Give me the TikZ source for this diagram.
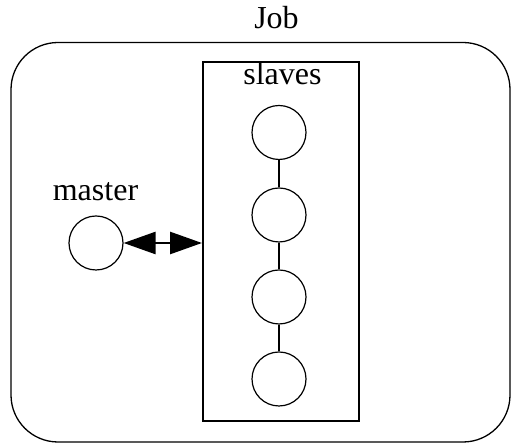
\documentclass[tikz,border=0pt]{standalone}
\usepackage{fontspec}
\setmainfont{Liberation Serif}
\usetikzlibrary{arrows.meta}
\begin{document}
\begin{tikzpicture}[x=1pt,y=1pt,
  proc/.style={circle,draw,line width=1.2pt,minimum size=54pt,inner sep=0pt},
  lbl/.style={anchor=base,inner sep=0pt,font=\fontsize{32}{38}\selectfont},
  link/.style={line width=2pt},
  duplex/.style={line width=2.6pt,{Triangle[length=32pt,width=22pt]}-{Triangle[length=32pt,width=22pt]}}]
  \useasboundingbox (0,0) rectangle (511,443);
  % job boundary
  \draw[line width=1.3pt,rounded corners=47pt] (11,1) rectangle (510,400.5);
  \node[lbl] (job) at (276.5,414) {Job};
  % slave group
  \node[draw,line width=2pt,minimum width=156pt,minimum height=359pt,inner sep=0pt] (group) at (281,201.5) {};
  \node[lbl] (slaveslbl) at (282.5,358) {slaves};
  \node[proc] (s1) at (279,310.5) {};
  \node[proc] (s2) at (279,228) {};
  \node[proc] (s3) at (279,146) {};
  \node[proc] (s4) at (279,64) {};
  \draw[link] (s1) -- (s2);
  \draw[link] (s2) -- (s3);
  \draw[link] (s3) -- (s4);
  % master
  \node[lbl] (masterlbl) at (95.5,242) {master};
  \node[proc] (m) at (96,200) {};
  \draw[duplex] (m.east) -- (m.east -| group.west);
\end{tikzpicture}
\end{document}
